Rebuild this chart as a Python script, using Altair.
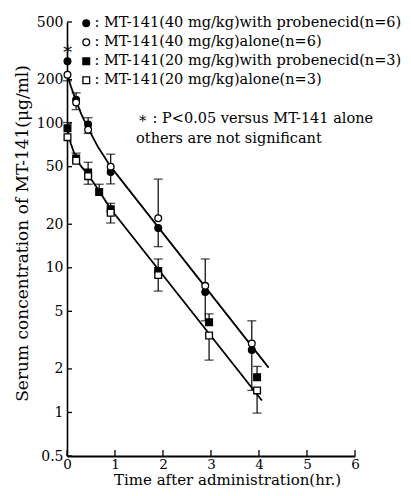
import altair as alt
import pandas as pd

FONT = "DejaVu Serif"

# ---------------- data ----------------
series_names = [
    ": MT-141(40 mg/kg)with probenecid(n=6)",
    ": MT-141(40 mg/kg)alone(n=6)",
    ": MT-141(20 mg/kg)with probenecid(n=3)",
    ": MT-141(20 mg/kg)alone(n=3)",
]
series_shapes = ["circle", "circle", "square", "square"]
series_fills = ["black", "white", "black", "white"]

# 40 mg/kg with probenecid (filled circle)
a_t = [0.01, 0.19, 0.44, 0.91, 1.90, 2.88, 3.85]
a_vals = [268, 145, 98, 46, 18.8, 6.8, 2.7]
a_err = [None, 162, 109, 38, 14, 4.3, 1.42]
# 40 mg/kg alone (open circle)
b_t = [0.01, 0.19, 0.44, 0.91, 1.90, 2.88, 3.85]
b_vals = [216, 139, 90, 50, 22, 7.5, 3.0]
b_err = [196, 124, 85, 61, 41, 11.5, 4.3]
# 20 mg/kg with probenecid (filled square)
c_t = [0.01, 0.19, 0.44, 0.67, 0.91, 1.90, 2.96, 3.96]
c_vals = [92, 57, 45.6, 33.4, 25.4, 9.5, 4.2, 1.75]
c_err = [101, 62, 53.6, 37.8, 27.9, 11.5, 4.8, 2.08]
# 20 mg/kg alone (open square)
d_t = [0.01, 0.19, 0.44, 0.91, 1.90, 2.96, 3.96]
d_vals = [80, 55, 43, 24, 8.9, 3.4, 1.42]
d_err = [None, None, 37.8, 20.4, 6.9, 2.3, 0.99]

# fitted curves
upper_t = [0.01, 0.08, 0.19, 0.30, 0.44, 0.65, 0.91, 4.2]
upper_v = [216, 180, 142, 115, 92, 68, 50, 2.04]
lower_t = [0.01, 0.08, 0.19, 0.30, 0.44, 0.67, 0.91, 4.06]
lower_v = [91, 72, 57, 50, 44, 34, 25.5, 1.21]

x_ticks = [0, 1, 2, 3, 4, 5, 6]
y_ticks = [0.5, 1, 2, 5, 10, 20, 50, 100, 200, 500]

ann_text = ["\u2217 : P<0.05 versus MT-141 alone", "others are not significant"]
ann_t = [1.48, 1.44]
ann_v = [106, 78]
star_t = [0.01]
star_v = [320]

# ---------------- tables ----------------
rows = []
for name, ts, vs, es in zip(series_names, [a_t, b_t, c_t, d_t],
                            [a_vals, b_vals, c_vals, d_vals],
                            [a_err, b_err, c_err, d_err]):
    for t, v, e in zip(ts, vs, es):
        rows.append({"series": name, "t": t, "v": v, "err": e})
pts = pd.DataFrame(rows)
errs = pts.dropna(subset=["err"])

fit = pd.DataFrame(
    [{"curve": "upper", "t": t, "v": v} for t, v in zip(upper_t, upper_v)]
    + [{"curve": "lower", "t": t, "v": v} for t, v in zip(lower_t, lower_v)]
)

W, H = 288, 434
xscale = alt.Scale(domain=[0, 6], nice=False, zero=False)
yscale = alt.Scale(type="log", domain=[0.5, 500], nice=False)

X = alt.X("t:Q", scale=xscale, axis=alt.Axis(
    values=x_ticks, title="Time after administration(hr.)", format="d",
    titleX=160, titleY=23, titleBaseline="middle", titleAlign="center",
    titleFontSize=15, labelPadding=1, labelFontSize=13.5))
Y = alt.Y("v:Q", scale=yscale, axis=alt.Axis(
    values=y_ticks, format="~g", title="Serum concentration of MT-141(\u03bcg/ml)",
    titleX=-45, titleY=211, titleAngle=270, titleBaseline="middle",
    titleAlign="center", titleFontSize=17))

lines = alt.Chart(fit).mark_line(color="black", strokeWidth=1.8).encode(
    x=X, y=Y, detail="curve:N")

err_rules = alt.Chart(errs).mark_rule(color="black", strokeWidth=1.2).encode(
    x="t:Q", y="v:Q", y2="err:Q")
err_caps = alt.Chart(errs).mark_tick(color="black", orient="horizontal",
                                     size=9, thickness=1.3).encode(
    x="t:Q", y="err:Q")

points = alt.Chart(pts).mark_point(filled=False, size=45, strokeWidth=1.3, opacity=1).encode(
    x="t:Q", y="v:Q",
    shape=alt.Shape("series:N", scale=alt.Scale(domain=series_names, range=series_shapes),
                    legend=alt.Legend(title=None, orient="none", legendX=12, legendY=-6,
                                      labelFont=FONT, labelFontSize=14.5, labelColor="black",
                                      labelLimit=420, rowPadding=4, padding=0,
                                      labelOffset=1, symbolSize=45,
                                      symbolStrokeWidth=1.3)),
    fill=alt.Fill("series:N", scale=alt.Scale(domain=series_names, range=series_fills)),
    stroke=alt.Stroke("series:N", scale=alt.Scale(domain=series_names,
                                                  range=["black"] * 4)),
)

yt = alt.Chart(pd.DataFrame({"v": y_ticks})).mark_rule(color="black", strokeWidth=1.3).encode(
    y="v:Q", x=alt.value(0), x2=alt.value(5))
xt = alt.Chart(pd.DataFrame({"t": x_ticks})).mark_rule(color="black", strokeWidth=1.3).encode(
    x="t:Q", y=alt.value(H), y2=alt.value(H - 6))

ann = alt.Chart(pd.DataFrame({"t": ann_t, "v": ann_v, "txt": ann_text})).mark_text(
    align="left", baseline="middle", font=FONT, fontSize=14.5, color="black").encode(
    x="t:Q", y="v:Q", text="txt:N")
star = alt.Chart(pd.DataFrame({"t": star_t, "v": star_v, "txt": ["\u2217"]})).mark_text(
    align="center", baseline="middle", font=FONT, fontSize=18, color="black").encode(
    x="t:Q", y="v:Q", text="txt:N")

chart = alt.layer(lines, err_rules, err_caps, points, yt, xt, ann, star).properties(
    width=W, height=H,
    autosize=alt.AutoSizeParams(type="none"),
    padding={"left": 59, "top": 14, "right": 48, "bottom": 32},
).configure_view(stroke=None).configure_axis(
    domainColor="black", domainWidth=1.6, ticks=False, grid=False,
    labelFont=FONT, labelFontSize=14, labelColor="black", labelPadding=4,
    titleFont=FONT, titleFontSize=16, titleFontWeight="normal", titleColor="black",
    labelFlush=False, labelOverlap=False,
).configure_axisX(domainWidth=1.8)

chart.save("out.html", embed_options={"renderer": "svg", "actions": False})
